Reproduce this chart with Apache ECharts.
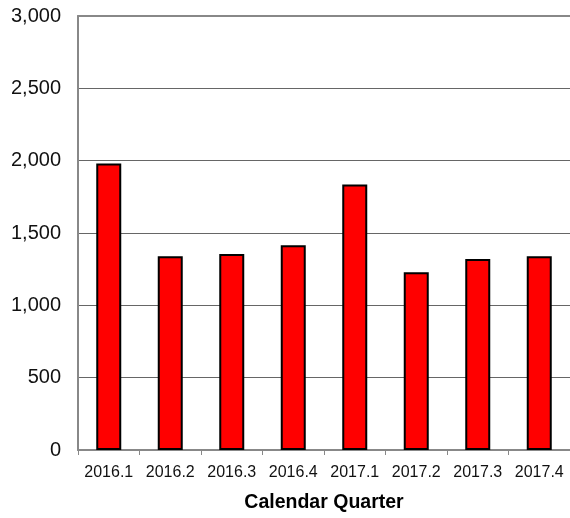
<!DOCTYPE html>
<html>
<head>
<meta charset="utf-8">
<script src="https://cdn.jsdelivr.net/npm/echarts@6/dist/echarts.min.js"></script>
<style>html,body{margin:0;padding:0;background:#fff;overflow:hidden;}#c{width:570px;height:518px;}</style>
</head>
<body>
<div id="c"></div>
<script>
const categories = ['2016.1','2016.2','2016.3','2016.4','2017.1','2017.2','2017.3','2017.4'];
const values = [1980, 1340, 1355, 1415, 1835, 1228, 1320, 1340];
const xAxisTitle = 'Calendar Quarter';

const chart = echarts.init(document.getElementById('c'));
chart.setOption({
  animation: false,
  backgroundColor: '#ffffff',
  grid: { left: 78, top: 16, width: 496, height: 440, show: false, containLabel: false },
  xAxis: [{
    type: 'category',
    data: categories,
    name: xAxisTitle,
    nameLocation: 'middle',
    nameGap: 43,
    nameTextStyle: { fontFamily: 'Liberation Sans, Arial', fontSize: 19.5, fontWeight: 'bold', color: '#000' },
    axisLine: { show: true, lineStyle: { color: '#888888', width: 2 } },
    axisTick: { show: true, length: 5, lineStyle: { color: '#888888', width: 1 } },
    axisLabel: { fontFamily: 'Liberation Sans, Arial', fontSize: 16, color: '#111', margin: 15, interval: 0 },
    splitLine: { show: false }
  }, {
    type: 'category',
    data: categories,
    position: 'top',
    axisLine: { show: true, lineStyle: { color: '#888888', width: 2 } },
    axisTick: { show: false },
    axisLabel: { show: false },
    splitLine: { show: false }
  }],
  yAxis: {
    type: 'value',
    min: 0, max: 3000, interval: 500,
    axisLine: { show: true, lineStyle: { color: '#888888', width: 2 } },
    axisTick: { show: false },
    axisLabel: {
      fontFamily: 'Liberation Sans, Arial', fontSize: 20, color: '#111', margin: 17,
      formatter: v => v.toLocaleString('en-US')
    },
    splitLine: { show: true, showMinLine: false, showMaxLine: false, lineStyle: { color: '#666666', width: 1 } }
  },
  series: [{
    type: 'bar',
    data: values,
    xAxisIndex: 0,
    barWidth: 25,
    itemStyle: { color: '#ff0000', borderColor: '#000000', borderWidth: 2 }
  }]
});
</script>
</body>
</html>
